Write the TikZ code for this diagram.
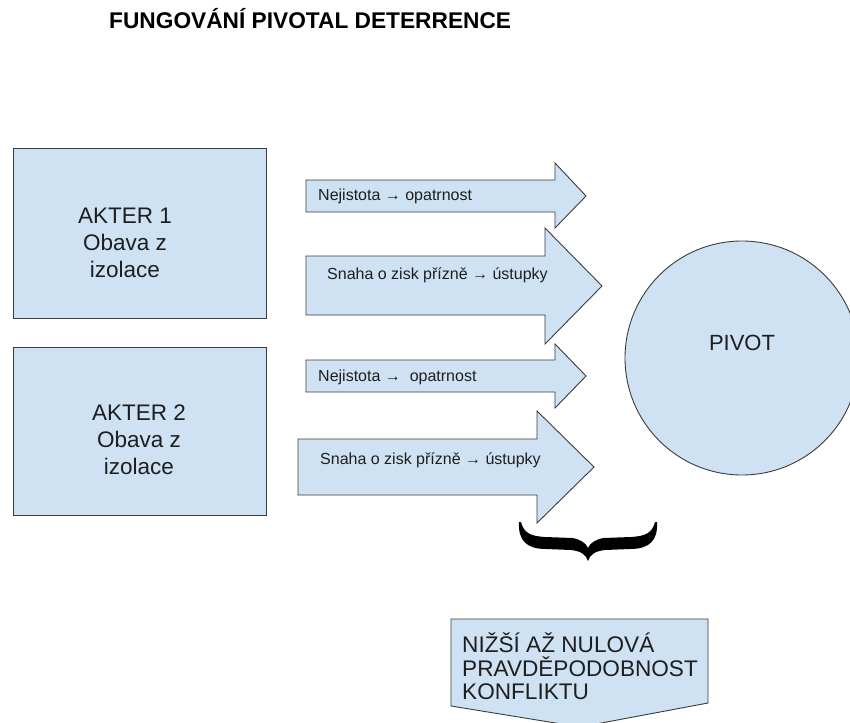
\documentclass[tikz,border=0pt]{standalone}
\usepackage{fontspec}
\setmainfont{Liberation Sans}
\definecolor{boxfill}{HTML}{CFE2F3}
\definecolor{edge}{HTML}{3C3C3C}
\definecolor{ink}{HTML}{1E1E1E}
\begin{document}
\begin{tikzpicture}[x=1pt,y=-1pt,
  shapebox/.style={fill=boxfill,draw=edge,line width=0.9pt},
  bigtext/.style={text=ink,font=\fontsize{22.5}{27}\selectfont,align=center,inner sep=0pt},
  arrowtext/.style={text=ink,font=\fontsize{16}{19}\selectfont,anchor=west,inner sep=0pt},
  resulttext/.style={text=ink,font=\fontsize{22.6}{24}\selectfont,anchor=base west,inner sep=0pt},
  titletext/.style={text=black,font=\fontsize{22.7}{26}\selectfont\bfseries,anchor=base west,inner sep=0pt}]
\useasboundingbox (0,0) rectangle (850,722);
\clip (0,0) rectangle (850,722);
\fill[white] (0,0) rectangle (850,722);

% title
\node[titletext] (title) at (109,29) {FUNGOVÁNÍ PIVOTAL DETERRENCE};

% actors
\node[shapebox,rectangle,minimum width=253pt,minimum height=170pt,inner sep=0pt] (akter1) at (139.5,233) {};
\node[shapebox,rectangle,minimum width=253pt,minimum height=168pt,inner sep=0pt] (akter2) at (139.5,431) {};
\node[bigtext] (a1text) at (125,243) {AKTER 1\\Obava z\\izolace};
\node[bigtext] (a2text) at (139,440) {AKTER 2\\Obava z\\izolace};

% block arrows
\draw[shapebox] (306,180) -- (555,180) -- (555,163) -- (586,196) -- (555,228) -- (555,212) -- (306,212) -- cycle;
\draw[shapebox] (306,256) -- (545,256) -- (545,228) -- (602,286) -- (545,344) -- (545,315) -- (306,315) -- cycle;
\draw[shapebox] (306,360) -- (555,360) -- (555,344) -- (586,376) -- (555,408) -- (555,392) -- (306,392) -- cycle;
\draw[shapebox] (298,439) -- (537,439) -- (537,411) -- (594,467) -- (537,523) -- (537,495) -- (298,495) -- cycle;
\node[arrowtext] (t1) at (318,196) {Nejistota → opatrnost};
\node[arrowtext] (t2) at (327,275) {Snaha o zisk přízně → ústupky};
\node[arrowtext] (t3) at (318,377) {Nejistota →\ \ opatrnost};
\node[arrowtext] (t4) at (320,460) {Snaha o zisk přízně → ústupky};

% pivot
\node[shapebox,circle,minimum size=234pt,inner sep=0pt] (pivot) at (742,358) {};
\node[bigtext,font=\fontsize{22}{26}\selectfont] (pivottext) at (742,343) {PIVOT};

% brace
\fill[black] (521,522) .. controls (524,533) and (530,536) .. (545,537) -- (572,538)
  .. controls (580,539) and (586,543) .. (588,548)
  .. controls (590,543) and (596,539) .. (604,538) -- (631,537)
  .. controls (646,536) and (652,533) .. (655,522) -- (657,522)
  .. controls (658,540) and (650,549) .. (630,549) -- (605,550)
  .. controls (596,551) and (590,554) .. (588,561)
  .. controls (586,554) and (580,551) .. (571,550) -- (546,549)
  .. controls (526,549) and (518,540) .. (519,522) -- cycle;

% result
\draw[shapebox] (451,619) -- (708,619) -- (708,703) -- (580,727) -- (451,706) -- cycle;
\node[resulttext] (r1) at (462,652) {NIŽŠÍ AŽ NULOVÁ};
\node[resulttext] (r2) at (462,676) {PRAVDĚPODOBNOST};
\node[resulttext] (r3) at (462,699) {KONFLIKTU};
\end{tikzpicture}
\end{document}
